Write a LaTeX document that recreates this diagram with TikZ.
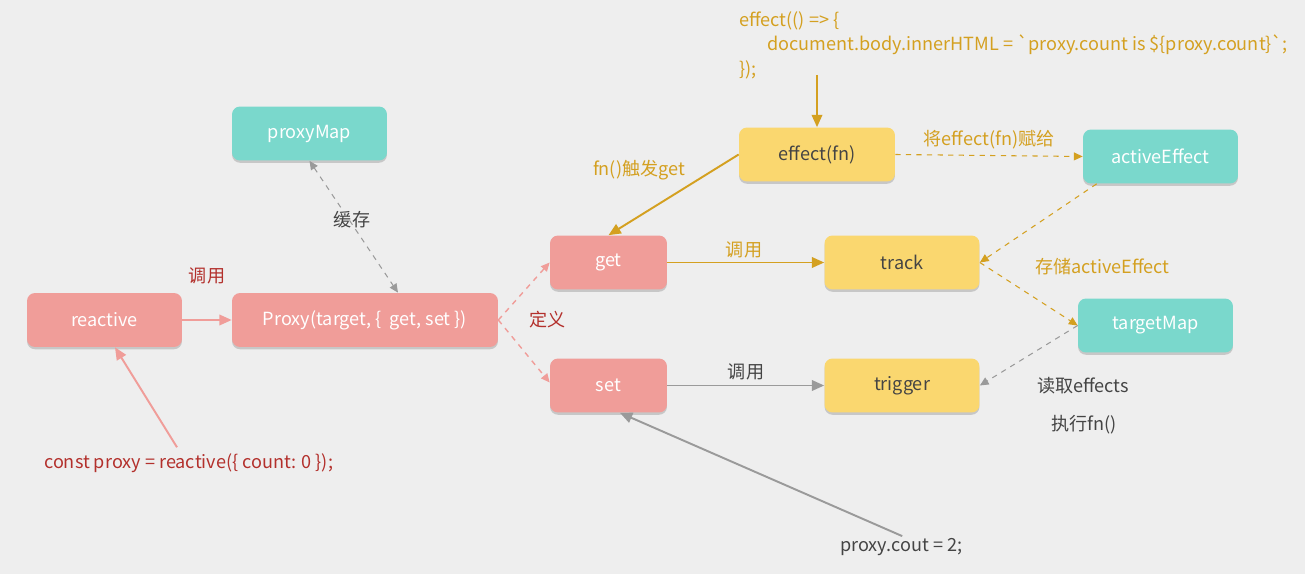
\documentclass[tikz,border=0pt]{standalone}
\usepackage{fontspec}
\setmainfont{Noto Sans CJK SC}
\usetikzlibrary{arrows.meta, shadows}
\definecolor{bgc}{HTML}{EEEEEE}
\definecolor{pinkc}{HTML}{F09D99}
\definecolor{tealc}{HTML}{7AD8CC}
\definecolor{yellowc}{HTML}{FAD76F}
\definecolor{goldc}{HTML}{D4A020}
\definecolor{redc}{HTML}{B3302C}
\definecolor{grayc}{HTML}{9A9A9A}
\definecolor{darkc}{HTML}{444444}
\tikzset{
  box/.style={rounded corners=0.16cm, minimum height=1.08cm, minimum width=3.1cm,
    drop shadow={shadow xshift=0pt, shadow yshift=-1.3pt, opacity=0.35},
    font=\fontsize{10.3}{12}\selectfont},
  pinkbox/.style={box, fill=pinkc, text=white},
  tealbox/.style={box, fill=tealc, text=white},
  yellowbox/.style={box, fill=yellowc, text=darkc},
  lbl/.style={font=\fontsize{10.3}{12}\selectfont},
  bigtip/.style={-{Triangle[length=7pt,width=6pt]}, line width=1.1pt},
  smalltip/.style={-{Triangle[length=5pt,width=4.5pt]}, line width=0.6pt, dashed},
}
\begin{document}
\begin{tikzpicture}[x=0.02cm, y=-0.02cm]
\fill[bgc] (0,0) rectangle (1305,574);
\useasboundingbox (0,0) rectangle (1305,574);

\node[pinkbox] (reactive) at (104.5,320) {reactive};
\node[pinkbox, minimum width=5.32cm] (proxy) at (365,320) {Proxy(target, \{\ \ get, set \})};
\node[tealbox] (proxymap) at (309.5,133.5) {proxyMap};
\node[pinkbox, minimum width=2.34cm] (get) at (608.5,262.5) {get};
\node[pinkbox, minimum width=2.34cm] (set) at (608.5,385.5) {set};
\node[yellowbox, minimum width=3.12cm] (effect) at (817,154.5) {effect(fn)};
\node[tealbox] (active) at (1160.5,156.5) {activeEffect};
\node[yellowbox] (track) at (902,262.5) {track};
\node[yellowbox] (trigger) at (902,385.5) {trigger};
\node[tealbox] (targetmap) at (1155.5,325.5) {targetMap};

\node[lbl, text=redc, anchor=west] (define) at (523,320) {定义};
\node[lbl, text=redc] (call1) at (207,276) {调用};
\node[lbl, text=darkc] (cache) at (352,220) {缓存};
\node[lbl, text=goldc] (trig) at (639,170) {fn()触发get};
\node[lbl, text=goldc] (assign) at (989,140) {将effect(fn)赋给};
\node[lbl, text=goldc] (call2) at (744,250) {调用};
\node[lbl, text=goldc, anchor=west] (store) at (1029,267) {存储activeEffect};
\node[lbl, text=darkc] (call3) at (746,372) {调用};
\node[lbl, text=darkc, anchor=west] (read) at (1031,386) {读取effects};
\node[lbl, text=darkc, anchor=west] (run) at (1045,425) {执行fn()};
\node[lbl, text=redc, anchor=west] (const) at (38,463) {const proxy = reactive(\{ count: 0 \});};
\node[lbl, text=darkc, anchor=west] (cout) at (834,547) {proxy.cout = 2;};
\node[lbl, text=goldc, anchor=north west, align=left, inner sep=0pt] (code) at (739,11) {effect(() => \{\\[2pt]
\hspace*{0.56cm}document.body.innerHTML = \textasciigrave proxy.count is \$\{proxy.count\}\textasciigrave;\\[2pt]
\});};

\draw[bigtip, pinkc] (reactive) -- (proxy);
\draw[bigtip, pinkc] ([xshift=-0.24cm]const.north -| 189,0) -- ([xshift=0.21cm]reactive.south);
\draw[smalltip, pinkc, line width=0.8pt] (proxy.east) -- (get.west);
\draw[smalltip, pinkc, line width=0.8pt] (proxy.east) -- ([yshift=0.06cm]set.west);
\draw[smalltip, grayc, {Triangle[length=5pt,width=4.5pt]}-{Triangle[length=5pt,width=4.5pt]}] (proxymap.south) -- ([xshift=0.66cm]proxy.north);
\draw[bigtip, goldc] (effect.north |- 0,75) -- (effect.north);
\draw[bigtip, goldc] (effect.west) -- (get.north);
\draw[smalltip, goldc] (effect.east) -- (active.west);
\draw[smalltip, goldc] ([xshift=0.28cm]active.south west) -- (track.east);
\draw[smalltip, goldc] (track.east) -- (targetmap.west);
\draw[bigtip, goldc] (get.east) -- (track.west);
\draw[bigtip, grayc] (set.east) -- (trigger.west);
\draw[smalltip, grayc] (targetmap.west) -- (trigger.east);
\draw[bigtip, grayc] (cout.north) ++(0.02cm,-0.08cm) -- ([xshift=0.23cm]set.south);
\end{tikzpicture}
\end{document}
